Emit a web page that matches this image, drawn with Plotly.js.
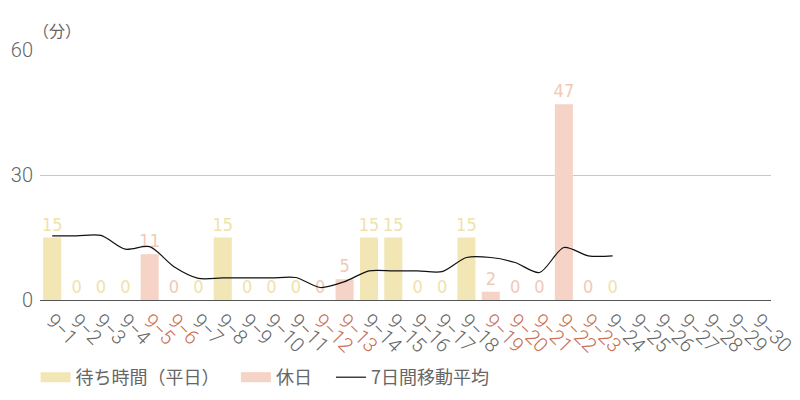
<!DOCTYPE html>
<html>
<head>
<meta charset="utf-8">
<script src="https://cdn.plot.ly/plotly-3.0.1.min.js"></script>
<style>
  html, body { margin: 0; padding: 0; background: #fff; }
  #grafica { width: 800px; height: 400px; }
</style>
</head>
<body>
<div id="grafica"></div>
<script>
const dias = ["9-1","9-2","9-3","9-4","9-5","9-6","9-7","9-8","9-9","9-10",
  "9-11","9-12","9-13","9-14","9-15","9-16","9-17","9-18","9-19","9-20",
  "9-21","9-22","9-23","9-24","9-25","9-26","9-27","9-28","9-29","9-30"];

// null = sin dato para esa serie
const esperaHabil = [15,0,0,0,null,null,0,15,0,0,0,null,null,15,15,0,0,15,null,null,null,null,null,0,null,null,null,null,null,null];
const esperaFestivo = [null,null,null,null,11,0,null,null,null,null,null,0,5,null,null,null,null,null,2,0,0,47,0,null,null,null,null,null,null,null];
const mediaMovil = [15.4,15.4,15.5,12.2,12.8,8.0,5.2,5.3,5.3,5.3,5.4,3.0,4.4,7.0,7.0,7.0,6.8,10.2,10.2,9.0,6.6,12.6,10.6,10.6,null,null,null,null,null,null];

const festivos = ["9-5","9-6","9-12","9-13","9-19","9-20","9-21","9-22","9-23"];

const colorHabil = "#f1e6b4";
const colorFestivo = "#f5d3c6";
const colorTexto = "#666666";
const colorRojo = "#c96e52";

const etiquetas = dias.map(d => {
  const t = d.replace("-", "−");
  return festivos.includes(d) ? `<span style="color:${colorRojo}">${t}</span>` : t;
});

const textoBarra = (arr) => arr.map(v => (v === null ? "" : String(v)));
const fuenteBarra = "'DejaVu Sans Condensed', Roboto";

const trazas = [
  {
    type: "bar",
    name: "待ち時間（平日）",
    x: dias,
    y: esperaHabil,
    marker: { color: colorHabil },
    text: textoBarra(esperaHabil),
    textposition: "outside",
    constraintext: "none",
    cliponaxis: false,
    textfont: { family: fuenteBarra, size: 18, color: "#efe2aa" },
    showlegend: false,
  },
  {
    type: "bar",
    name: "休日",
    x: dias,
    y: esperaFestivo,
    marker: { color: colorFestivo },
    text: textoBarra(esperaFestivo),
    textposition: "outside",
    constraintext: "none",
    cliponaxis: false,
    textfont: { family: fuenteBarra, size: 18, color: "#f2c8b7" },
    showlegend: false,
  },
  {
    type: "scatter",
    mode: "lines",
    name: "7日間移動平均",
    x: dias,
    y: mediaMovil,
    line: { color: "#111111", width: 1.2, shape: "spline", smoothing: 0.8 },
    legend: "legend3",
  },
  // muestras de leyenda rectangulares (30x12) como en el original
  {
    type: "scatter", mode: "lines", name: "待ち時間（平日）",
    x: [null], y: [null],
    line: { color: colorHabil, width: 12 },
    legend: "legend",
  },
  {
    type: "scatter", mode: "lines", name: "休日",
    x: [null], y: [null],
    line: { color: colorFestivo, width: 12 },
    legend: "legend2",
  },
];

const leyendaBase = {
  orientation: "h",
  y: -0.31,
  yanchor: "middle",
  xanchor: "left",
  font: { family: "'Noto Sans CJK JP', 'Noto Sans'", size: 18, color: colorTexto },
  itemwidth: 30,
  bgcolor: "rgba(0,0,0,0)",
};

const layout = {
  width: 800,
  height: 400,
  margin: { t: 50, b: 100, l: 40, r: 29, autoexpand: false },
  paper_bgcolor: "#fff",
  plot_bgcolor: "#fff",
  barmode: "overlay",
  bargap: 0.26,
  font: { family: "Roboto, 'Noto Sans CJK JP'", color: colorTexto },
  showlegend: true,
  legend: { ...leyendaBase, x: -0.006 },
  legend2: { ...leyendaBase, x: 0.268 },
  legend3: { ...leyendaBase, x: 0.398 },
  xaxis: {
    type: "category",
    tickmode: "array",
    tickvals: dias,
    ticktext: etiquetas,
    tickangle: 45,
    tickfont: { family: "Roboto", size: 20, weight: 300, color: colorTexto },
    showline: true,
    linecolor: "#555555",
    linewidth: 1,
    ticks: "",
    showgrid: false,
    automargin: false,
    range: [-0.5, 29.5],
    fixedrange: true,
  },
  yaxis: {
    range: [0, 60],
    tickvals: [0, 30, 60],
    tickfont: { family: "Roboto", size: 20, weight: 300, color: colorTexto },
    showgrid: true,
    gridcolor: "#c8c8c8",
    gridwidth: 1,
    zeroline: false,
    ticks: "",
    ticklabelstandoff: 6,
    automargin: false,
    fixedrange: true,
  },
  annotations: [
    {
      text: "（分）",
      xref: "paper", yref: "paper",
      x: -0.012, y: 1.0,
      xanchor: "left", yanchor: "bottom",
      yshift: 6,
      showarrow: false,
      font: { family: "'Noto Sans CJK JP'", size: 16, color: colorTexto },
    }
  ],
};

Plotly.newPlot("grafica", trazas, layout, { staticPlot: true, displayModeBar: false });
</script>
</body>
</html>
